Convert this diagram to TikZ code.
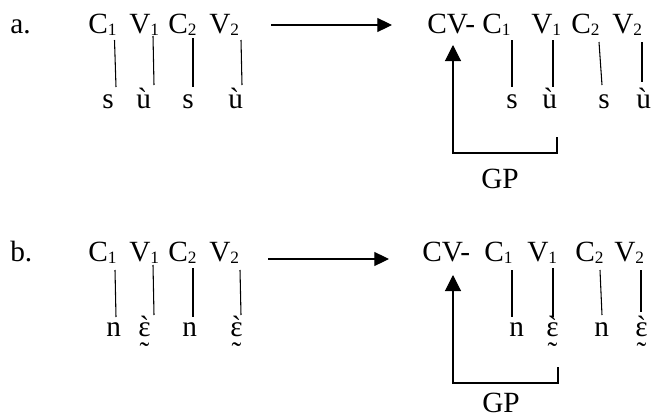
\documentclass[tikz,border=0pt]{standalone}
\usepackage{fontspec}
\setmainfont{Liberation Serif}
\usetikzlibrary{arrows.meta}
\newcommand\sbs[1]{\raisebox{-1.6pt}{\fontsize{13}{14}\selectfont #1}}
\newcommand\epsacc{\ooalign{ɛ\cr\hidewidth ˋ\hidewidth\cr\hidewidth\raisebox{-19.5pt}{˜}\hidewidth\cr}}
\tikzset{
  txt/.style={inner sep=0pt, anchor=base west, font=\fontsize{22}{26}\selectfont},
  assoc/.style={line width=0.8pt},
  mainarrow/.style={line width=0.8pt, -{Triangle[length=11pt,width=10.5pt]}},
  gparrow/.style={line width=0.8pt, -{Triangle[length=12pt,width=12pt]}},
}
\begin{document}
\begin{tikzpicture}[x=0.75pt,y=-0.75pt]
\useasboundingbox (0,0) rectangle (651,418);

% ---------- row a ----------
\node[txt] (la) at (10,33) {a.};
\node[txt] (aC1) at (88,33) {C\sbs{1}};
\node[txt] (aV1) at (129,33) {V\sbs{1}};
\node[txt] (aC2) at (168,33) {C\sbs{2}};
\node[txt] (aV2) at (209,33) {V\sbs{2}};
\node[txt] (as1) at (102,108) {s};
\node[txt] (au1) at (136,108) {ù};
\node[txt] (as2) at (182,108) {s};
\node[txt] (au2) at (228,108) {ù};
\coordinate (aL1t) at (114.5,40); \coordinate (aL1b) at (116,87);
\coordinate (aL2t) at (153,36);   \coordinate (aL2b) at (154,85);
\coordinate (aL3t) at (193,38);   \coordinate (aL3b) at (193,87);
\coordinate (aL4t) at (241,40);   \coordinate (aL4b) at (242,85);
\draw[assoc] (aL1t) -- (aL1b);
\draw[assoc] (aL2t) -- (aL2b);
\draw[assoc] (aL3t) -- (aL3b);
\draw[assoc] (aL4t) -- (aL4b);

\coordinate (aAs) at (271,25); \coordinate (aAe) at (392,25);
\draw[mainarrow] (aAs) -- (aAe);

\node[txt] (aCV) at (427,33) {CV-};
\node[txt] (arC1) at (482,33) {C\sbs{1}};
\node[txt] (arV1) at (531,33) {V\sbs{1}};
\node[txt] (arC2) at (571,33) {C\sbs{2}};
\node[txt] (arV2) at (612,33) {V\sbs{2}};
\node[txt] (ars1) at (506,108) {s};
\node[txt] (aru1) at (542,108) {ù};
\node[txt] (ars2) at (598,108) {s};
\node[txt] (aru2) at (636,108) {ù};
\coordinate (arL1t) at (512,40); \coordinate (arL1b) at (512,87);
\coordinate (arL2t) at (553,40); \coordinate (arL2b) at (553,87);
\coordinate (arL3t) at (599,42); \coordinate (arL3b) at (602,85);
\coordinate (arL4t) at (642,42); \coordinate (arL4b) at (642,82);
\draw[assoc] (arL1t) -- (arL1b);
\draw[assoc] (arL2t) -- (arL2b);
\draw[assoc] (arL3t) -- (arL3b);
\draw[assoc] (arL4t) -- (arL4b);

\coordinate (aG1) at (557,137); \coordinate (aG2) at (557,153);
\coordinate (aG3) at (453,153); \coordinate (aG4) at (453,45);
\draw[gparrow] (aG1) -- (aG2) -- (aG3) -- (aG4);
\node[txt] (aGP) at (481,188) {GP};

% ---------- row b ----------
\node[txt] (lb) at (10,261) {b.};
\node[txt] (bC1) at (88,261) {C\sbs{1}};
\node[txt] (bV1) at (129,261) {V\sbs{1}};
\node[txt] (bC2) at (168,261) {C\sbs{2}};
\node[txt] (bV2) at (209,261) {V\sbs{2}};
\node[txt] (bn1) at (106,336) {n};
\node[txt] (be1) at (138,336) {\epsacc};
\node[txt] (bn2) at (182,336) {n};
\node[txt] (be2) at (230,336) {\epsacc};
\coordinate (bL1t) at (115,270); \coordinate (bL1b) at (116,317);
\coordinate (bL2t) at (153,265); \coordinate (bL2b) at (154,315);
\coordinate (bL3t) at (193,268); \coordinate (bL3b) at (193,317);
\coordinate (bL4t) at (240,270); \coordinate (bL4b) at (241,315);
\draw[assoc] (bL1t) -- (bL1b);
\draw[assoc] (bL2t) -- (bL2b);
\draw[assoc] (bL3t) -- (bL3b);
\draw[assoc] (bL4t) -- (bL4b);

\coordinate (bAs) at (268,259); \coordinate (bAe) at (389,259);
\draw[mainarrow] (bAs) -- (bAe);

\node[txt] (bCV) at (422,261) {CV-};
\node[txt] (brC1) at (484,261) {C\sbs{1}};
\node[txt] (brV1) at (527,261) {V\sbs{1}};
\node[txt] (brC2) at (575,261) {C\sbs{2}};
\node[txt] (brV2) at (614,261) {V\sbs{2}};
\node[txt] (brn1) at (509,336) {n};
\node[txt] (bre1) at (546,336) {\epsacc};
\node[txt] (brn2) at (594,336) {n};
\node[txt] (bre2) at (635,336) {\epsacc};
\coordinate (brL1t) at (512,270); \coordinate (brL1b) at (512,317);
\coordinate (brL2t) at (553,268); \coordinate (brL2b) at (553,317);
\coordinate (brL3t) at (600,270); \coordinate (brL3b) at (602,315);
\coordinate (brL4t) at (641,270); \coordinate (brL4b) at (641,312);
\draw[assoc] (brL1t) -- (brL1b);
\draw[assoc] (brL2t) -- (brL2b);
\draw[assoc] (brL3t) -- (brL3b);
\draw[assoc] (brL4t) -- (brL4b);

\coordinate (bG1) at (558,367); \coordinate (bG2) at (558,383);
\coordinate (bG3) at (453,383); \coordinate (bG4) at (453,275);
\draw[gparrow] (bG1) -- (bG2) -- (bG3) -- (bG4);
\node[txt] (bGP) at (482,412) {GP};
\end{tikzpicture}
\end{document}
